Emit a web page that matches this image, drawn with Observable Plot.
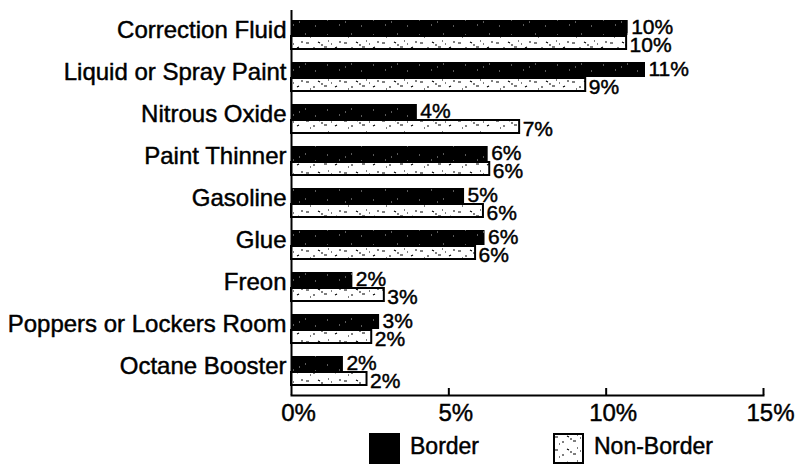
<!DOCTYPE html>
<html><head><meta charset="utf-8">
<script src="https://cdn.jsdelivr.net/npm/d3@7"></script>
<script src="https://cdn.jsdelivr.net/npm/@observablehq/plot@0.6"></script>
<style>
body{margin:0;background:#fff;font-family:"Liberation Sans",Arial,sans-serif;color:#000}
#wrap{position:relative;width:804px;height:464px;overflow:hidden;background:#fff}
#chart{position:absolute;left:0;top:0}
#chart text{stroke:#000;stroke-width:0.45px}
.sw{position:absolute;top:433px;width:31px;height:31px;box-sizing:border-box}
.lt{position:absolute;top:430px;font-size:23px;line-height:32px;-webkit-text-stroke:0.45px #000}
</style></head><body><div id="wrap"><div id="chart"></div><div id="legend"></div></div>
<script>
const categories = ["Correction Fluid","Liquid or Spray Paint","Nitrous Oxide","Paint Thinner","Gasoline","Glue","Freon","Poppers or Lockers Room","Octane Booster"];
const seriesNames = ["Border","Non-Border"];
const border = [10.7, 11.25, 4.0, 6.25, 5.5, 6.15, 1.95, 2.8, 1.65];
const nonBorder = [10.65, 9.35, 7.25, 6.3, 6.1, 5.85, 2.95, 2.55, 2.4];
const borderLabels = ["10%","11%","4%","6%","5%","6%","2%","3%","2%"];
const nonBorderLabels = ["10%","9%","7%","6%","6%","6%","3%","2%","2%"];
const xTicks = [0, 5, 10, 15];
const xTickLabels = ["0%","5%","10%","15%"];

const rows = categories.map((c, i) => ({category: c, border: border[i], nonBorder: nonBorder[i], bl: borderLabels[i], nl: nonBorderLabels[i]}));

const font = "Liberation Sans, Arial, sans-serif";
const plot = Plot.plot({
  width: 804, height: 430,
  marginLeft: 291, marginRight: 41, marginTop: 12, marginBottom: 35,
  style: {fontFamily: font, background: "white", color: "black", overflow: "visible"},
  x: {domain: [0, 15], axis: null},
  y: {domain: categories, axis: null, padding: 0},
  marks: [
    Plot.barX(rows, {y: "category", x: "border", fill: "url(#speckDark)", insetTop: 5, insetBottom: 22}),
    Plot.barX(rows, {y: "category", x: "nonBorder", fill: "url(#speck)", stroke: "black", strokeWidth: 2, insetTop: 21, insetBottom: 8}),
    Plot.text(rows, {y: "category", x: "border", text: "bl", dx: 3, dy: -9, textAnchor: "start", fontSize: 21, fill: "black"}),
    Plot.text(rows, {y: "category", x: "nonBorder", text: "nl", dx: 3, dy: 9, textAnchor: "start", fontSize: 21, fill: "black"}),
    Plot.axisY({tickSize: 0, tickPadding: 5, fontSize: 24, dy: -6, label: null}),
    Plot.axisX({ticks: xTicks, tickSize: 0, tickPadding: 8, fontSize: 24, dx: 7, label: null, tickFormat: d => xTickLabels[xTicks.indexOf(d)]}),
    Plot.tickX(xTicks.slice(1), {x: d => d, insetTop: 376, strokeWidth: 2}),
    Plot.ruleX([0], {strokeWidth: 2, insetTop: -2}),
    Plot.frame({anchor: "bottom", strokeWidth: 2})
  ]
});

const patDefs = `
<pattern id="speck" width="38" height="13" patternUnits="userSpaceOnUse">
  <rect width="38" height="13" fill="white"/>
  <path d="M2 4h3M9 9h2M14 3l2 1M20 8h3M27 5h1M31 9l2-1M35 3h2M6 11h1M24 2h1M17 6h2" stroke="black" stroke-width="1.2" fill="none"/>
</pattern>
<pattern id="speckDark" width="46" height="15" patternUnits="userSpaceOnUse">
  <rect width="46" height="15" fill="black"/>
  <path d="M5 5h1M17 10h1M29 4h1M39 11h1M23 7h1" stroke="white" stroke-width="1" fill="none" opacity="0.7"/>
</pattern>`;
const defs = document.createElementNS("http://www.w3.org/2000/svg", "defs");
defs.innerHTML = patDefs;
plot.insertBefore(defs, plot.firstChild);
document.getElementById("chart").appendChild(plot);

// Legend
const legend = document.getElementById("legend");
const swLeft = [369, 553];
const txLeft = [410, 594];
seriesNames.forEach((name, i) => {
  const sw = document.createElement("div");
  sw.className = "sw";
  sw.style.left = swLeft[i] + "px";
  if (i === 0) {
    sw.style.background = "black";
  } else {
    sw.innerHTML = `<svg width="31" height="31" style="display:block"><rect x="1" y="1" width="29" height="29" fill="url(#speck)" stroke="black" stroke-width="2"/></svg>`;
  }
  legend.appendChild(sw);
  const t = document.createElement("div");
  t.className = "lt";
  t.style.left = txLeft[i] + "px";
  t.textContent = name;
  legend.appendChild(t);
});
</script>
</body></html>
